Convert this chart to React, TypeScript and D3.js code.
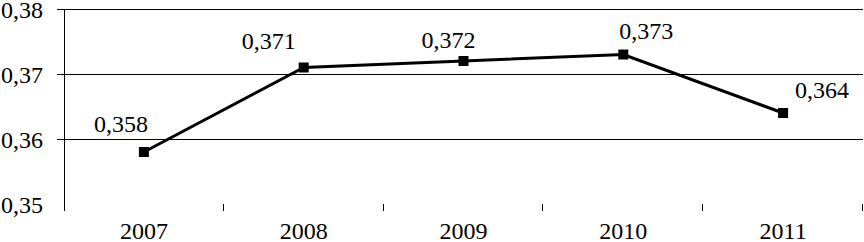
import React from "react";
import * as d3 from "d3";

const years = ["2007", "2008", "2009", "2010", "2011"];
const values = [0.358, 0.371, 0.372, 0.373, 0.364];
const yTicks = [0.35, 0.36, 0.37, 0.38];
const labelOffsets = [
  [-23, -20],
  [-35, -19],
  [-15, -13],
  [23, -16],
  [39, -15],
];

const W = 864;
const H = 242;
const FONT = "Liberation Serif, Times New Roman, Times, serif";

export default function App() {
  const left = 64;
  const right = 863;
  const x = d3.scaleBand<string>().domain(years).range([left, right]);
  const y = d3.scaleLinear().domain([0.35, 0.38]).range([204, 9]);
  const cx = (d: string) => (x(d) as number) + x.bandwidth() / 2;
  const line = d3
    .line<number>()
    .x((_, i) => cx(years[i]))
    .y((v) => y(v));
  const bottom = y(0.35);
  const ts = { fontFamily: FONT, fontSize: "24px" };

  return (
    <svg
      width={W}
      height={H}
      style={{ position: "absolute", left: 0, top: 0, background: "#fff", fontFamily: FONT }}
    >
      {yTicks.map((t) => {
        const yy = Math.round(y(t)) + 0.5;
        return (
          <g key={t}>
            {t > 0.35 && (
              <line x1={57} x2={right} y1={yy} y2={yy} stroke="#000" strokeWidth={1} />
            )}
            <text x={43} y={yy + 8} textAnchor="end" style={ts} fill="#000">
              {d3.format(".2f")(t).replace(".", ",")}
            </text>
          </g>
        );
      })}
      <line x1={left + 0.5} x2={left + 0.5} y1={9} y2={bottom + 7} stroke="#000" strokeWidth={1} />
      {years.map((yr) => {
        const xx = Math.round((x(yr) as number) + x.bandwidth()) - 0.5;
        return (
          <line key={"t" + yr} x1={xx} x2={xx} y1={bottom} y2={bottom + 7} stroke="#000" strokeWidth={1} />
        );
      })}
      {years.map((yr) => (
        <text key={"x" + yr} x={cx(yr)} y={239} textAnchor="middle" style={ts} fill="#000">
          {yr}
        </text>
      ))}
      <path d={line(values) || ""} fill="none" stroke="#000" strokeWidth={3} />
      {values.map((v, i) => (
        <rect key={"m" + i} x={cx(years[i]) - 5} y={y(v) - 5} width={10} height={10} fill="#000" />
      ))}
      {values.map((v, i) => (
        <text
          key={"l" + i}
          x={cx(years[i]) + labelOffsets[i][0]}
          y={y(v) + labelOffsets[i][1]}
          textAnchor="middle"
          style={ts}
          fill="#000"
        >
          {d3.format(".3f")(v).replace(".", ",")}
        </text>
      ))}
    </svg>
  );
}
